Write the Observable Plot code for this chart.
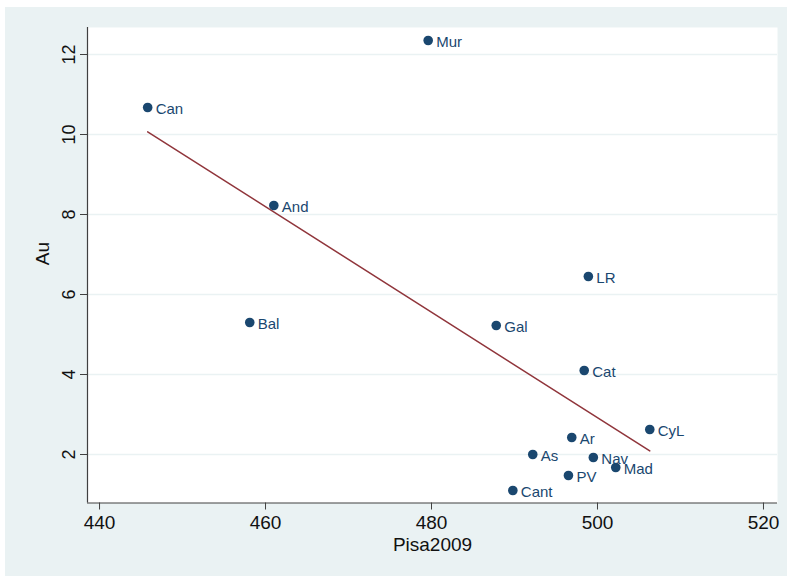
<!DOCTYPE html>
<html>
<head>
<meta charset="utf-8">
<script src="https://cdn.jsdelivr.net/npm/d3@7"></script>
<script src="https://cdn.jsdelivr.net/npm/@observablehq/plot@0.6"></script>
<style>
  html, body { margin: 0; padding: 0; background: #ffffff; width: 787px; height: 576px; overflow: hidden; }
  #panel { position: absolute; left: 5px; top: 7px; width: 782px; height: 569px; background: #eaf2f3; }
  #chart { position: absolute; left: 0; top: 0; }
  #chart svg { background: transparent; }
</style>
</head>
<body>
<div id="panel"></div>
<div id="chart"></div>
<script>
const regions = ["Mur", "Can", "And", "Bal", "LR", "Gal", "Cat", "CyL", "Ar", "As", "Nav", "Mad", "PV", "Cant"];
const pisa2009 = [479.6, 445.8, 461.0, 458.1, 498.9, 487.8, 498.4, 506.3, 496.9, 492.2, 499.5, 502.2, 496.5, 489.8];
const au = [12.35, 10.675, 8.225, 5.3, 6.45, 5.225, 4.1, 2.625, 2.425, 2.0, 1.925, 1.675, 1.475, 1.1];
const xTicks = [440, 460, 480, 500, 520];
const yTicks = [2, 4, 6, 8, 10, 12];
const xDomain = [438.55, 521.69];
const yDomain = [0.7875, 12.675];

const data = regions.map((r, i) => ({region: r, x: pisa2009[i], y: au[i]}));

const navy = "#1a476f";
const maroon = "#90353b";
const bg = "#eaf2f3";
const font = "'Liberation Sans', Arial, Helvetica, sans-serif";

const plot = Plot.plot({
  width: 787,
  height: 576,
  marginLeft: 87,
  marginTop: 27,
  marginRight: 10,
  marginBottom: 73.5,
  style: {fontFamily: font, background: "transparent", overflow: "visible"},
  x: {domain: xDomain},
  y: {domain: yDomain},
  marks: [
    Plot.frame({fill: "white", stroke: null}),
    Plot.gridY(yTicks, {stroke: bg, strokeOpacity: 1, strokeWidth: 1.6}),
    Plot.ruleY([yDomain[0]], {stroke: "#404040", strokeWidth: 1.2}),
    Plot.ruleX([xDomain[0]], {stroke: "#404040", strokeWidth: 1.2}),
    Plot.axisX(xTicks, {tickSize: 7, tickPadding: 5, fontSize: 19, stroke: "#404040", fill: "#111", label: null}),
    Plot.axisY(yTicks, {tickSize: 7, tickPadding: 6, fontSize: 18, tickRotate: -90, stroke: "#404040", fill: "#111", label: null}),
    Plot.text(["Pisa2009"], {frameAnchor: "bottom", dy: 48, fontSize: 19, fill: "#111"}),
    Plot.text(["Au"], {frameAnchor: "left", dx: -45, rotate: -90, fontSize: 19, fill: "#111"}),
    Plot.linearRegressionY(data, {x: "x", y: "y", stroke: maroon, strokeWidth: 1.5, ci: 0}),
    Plot.dot(data, {x: "x", y: "y", r: 4.8, fill: navy, stroke: null}),
    Plot.text(data, {x: "x", y: "y", text: "region", dx: 8, dy: 2, textAnchor: "start", fontSize: 15, fill: navy})
  ]
});
document.getElementById("chart").appendChild(plot);
</script>
</body>
</html>
